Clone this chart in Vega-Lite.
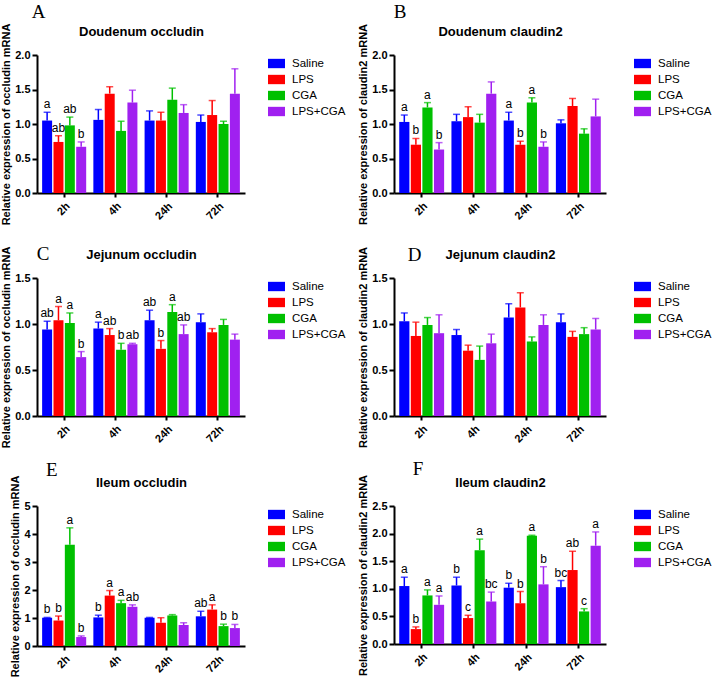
{
  "$schema": "https://vega.github.io/schema/vega-lite/v6.json",
  "background": "white",
  "padding": {"left": 0, "top": 3, "right": 0, "bottom": 0},
  "datasets": {
    "d": [
      {"p":"A","t":"2h","g":"Saline","v":1.05,"u":1.17,"l":"a"},
      {"p":"A","t":"2h","g":"LPS","v":0.74,"u":0.83,"l":"ab"},
      {"p":"A","t":"2h","g":"CGA","v":0.98,"u":1.10,"l":"ab"},
      {"p":"A","t":"2h","g":"LPS+CGA","v":0.67,"u":0.74,"l":"b"},
      {"p":"A","t":"4h","g":"Saline","v":1.06,"u":1.21,"l":""},
      {"p":"A","t":"4h","g":"LPS","v":1.44,"u":1.54,"l":""},
      {"p":"A","t":"4h","g":"CGA","v":0.90,"u":1.04,"l":""},
      {"p":"A","t":"4h","g":"LPS+CGA","v":1.31,"u":1.49,"l":""},
      {"p":"A","t":"24h","g":"Saline","v":1.05,"u":1.19,"l":""},
      {"p":"A","t":"24h","g":"LPS","v":1.05,"u":1.17,"l":""},
      {"p":"A","t":"24h","g":"CGA","v":1.35,"u":1.52,"l":""},
      {"p":"A","t":"24h","g":"LPS+CGA","v":1.16,"u":1.28,"l":""},
      {"p":"A","t":"72h","g":"Saline","v":1.03,"u":1.13,"l":""},
      {"p":"A","t":"72h","g":"LPS","v":1.13,"u":1.34,"l":""},
      {"p":"A","t":"72h","g":"CGA","v":1.00,"u":1.04,"l":""},
      {"p":"A","t":"72h","g":"LPS+CGA","v":1.44,"u":1.80,"l":""},

      {"p":"B","t":"2h","g":"Saline","v":1.03,"u":1.13,"l":"a"},
      {"p":"B","t":"2h","g":"LPS","v":0.70,"u":0.79,"l":"b"},
      {"p":"B","t":"2h","g":"CGA","v":1.24,"u":1.31,"l":"a"},
      {"p":"B","t":"2h","g":"LPS+CGA","v":0.63,"u":0.73,"l":"b"},
      {"p":"B","t":"4h","g":"Saline","v":1.04,"u":1.14,"l":""},
      {"p":"B","t":"4h","g":"LPS","v":1.10,"u":1.25,"l":""},
      {"p":"B","t":"4h","g":"CGA","v":1.02,"u":1.14,"l":""},
      {"p":"B","t":"4h","g":"LPS+CGA","v":1.44,"u":1.61,"l":""},
      {"p":"B","t":"24h","g":"Saline","v":1.05,"u":1.17,"l":"a"},
      {"p":"B","t":"24h","g":"LPS","v":0.70,"u":0.75,"l":"b"},
      {"p":"B","t":"24h","g":"CGA","v":1.31,"u":1.38,"l":"a"},
      {"p":"B","t":"24h","g":"LPS+CGA","v":0.67,"u":0.74,"l":"b"},
      {"p":"B","t":"72h","g":"Saline","v":1.01,"u":1.06,"l":""},
      {"p":"B","t":"72h","g":"LPS","v":1.26,"u":1.37,"l":""},
      {"p":"B","t":"72h","g":"CGA","v":0.86,"u":0.93,"l":""},
      {"p":"B","t":"72h","g":"LPS+CGA","v":1.11,"u":1.36,"l":""},

      {"p":"C","t":"2h","g":"Saline","v":0.94,"u":1.03,"l":"ab"},
      {"p":"C","t":"2h","g":"LPS","v":1.04,"u":1.19,"l":"a"},
      {"p":"C","t":"2h","g":"CGA","v":1.01,"u":1.12,"l":"a"},
      {"p":"C","t":"2h","g":"LPS+CGA","v":0.64,"u":0.70,"l":"b"},
      {"p":"C","t":"4h","g":"Saline","v":0.95,"u":1.02,"l":"a"},
      {"p":"C","t":"4h","g":"LPS","v":0.88,"u":0.95,"l":"ab"},
      {"p":"C","t":"4h","g":"CGA","v":0.72,"u":0.79,"l":"b"},
      {"p":"C","t":"4h","g":"LPS+CGA","v":0.78,"u":0.79,"l":"ab"},
      {"p":"C","t":"24h","g":"Saline","v":1.04,"u":1.15,"l":"ab"},
      {"p":"C","t":"24h","g":"LPS","v":0.73,"u":0.82,"l":"b"},
      {"p":"C","t":"24h","g":"CGA","v":1.13,"u":1.21,"l":"a"},
      {"p":"C","t":"24h","g":"LPS+CGA","v":0.89,"u":0.99,"l":"ab"},
      {"p":"C","t":"72h","g":"Saline","v":1.02,"u":1.11,"l":""},
      {"p":"C","t":"72h","g":"LPS","v":0.91,"u":0.95,"l":""},
      {"p":"C","t":"72h","g":"CGA","v":0.99,"u":1.05,"l":""},
      {"p":"C","t":"72h","g":"LPS+CGA","v":0.83,"u":0.89,"l":""},

      {"p":"D","t":"2h","g":"Saline","v":1.03,"u":1.12,"l":""},
      {"p":"D","t":"2h","g":"LPS","v":0.87,"u":1.02,"l":""},
      {"p":"D","t":"2h","g":"CGA","v":0.99,"u":1.07,"l":""},
      {"p":"D","t":"2h","g":"LPS+CGA","v":0.90,"u":1.10,"l":""},
      {"p":"D","t":"4h","g":"Saline","v":0.88,"u":0.94,"l":""},
      {"p":"D","t":"4h","g":"LPS","v":0.71,"u":0.77,"l":""},
      {"p":"D","t":"4h","g":"CGA","v":0.61,"u":0.76,"l":""},
      {"p":"D","t":"4h","g":"LPS+CGA","v":0.79,"u":0.89,"l":""},
      {"p":"D","t":"24h","g":"Saline","v":1.07,"u":1.22,"l":""},
      {"p":"D","t":"24h","g":"LPS","v":1.18,"u":1.34,"l":""},
      {"p":"D","t":"24h","g":"CGA","v":0.81,"u":0.86,"l":""},
      {"p":"D","t":"24h","g":"LPS+CGA","v":0.99,"u":1.10,"l":""},
      {"p":"D","t":"72h","g":"Saline","v":1.02,"u":1.11,"l":""},
      {"p":"D","t":"72h","g":"LPS","v":0.86,"u":0.92,"l":""},
      {"p":"D","t":"72h","g":"CGA","v":0.89,"u":0.96,"l":""},
      {"p":"D","t":"72h","g":"LPS+CGA","v":0.94,"u":1.06,"l":""},

      {"p":"E","t":"2h","g":"Saline","v":1.01,"u":1.02,"l":"b"},
      {"p":"E","t":"2h","g":"LPS","v":0.91,"u":1.07,"l":"b"},
      {"p":"E","t":"2h","g":"CGA","v":3.62,"u":4.22,"l":"a"},
      {"p":"E","t":"2h","g":"LPS+CGA","v":0.32,"u":0.36,"l":"b"},
      {"p":"E","t":"4h","g":"Saline","v":1.02,"u":1.10,"l":"b"},
      {"p":"E","t":"4h","g":"LPS","v":1.80,"u":1.98,"l":"a"},
      {"p":"E","t":"4h","g":"CGA","v":1.53,"u":1.63,"l":"a"},
      {"p":"E","t":"4h","g":"LPS+CGA","v":1.40,"u":1.47,"l":"ab"},
      {"p":"E","t":"24h","g":"Saline","v":1.01,"u":1.02,"l":""},
      {"p":"E","t":"24h","g":"LPS","v":0.83,"u":1.01,"l":""},
      {"p":"E","t":"24h","g":"CGA","v":1.09,"u":1.12,"l":""},
      {"p":"E","t":"24h","g":"LPS+CGA","v":0.75,"u":0.83,"l":""},
      {"p":"E","t":"72h","g":"Saline","v":1.06,"u":1.24,"l":"ab"},
      {"p":"E","t":"72h","g":"LPS","v":1.30,"u":1.47,"l":"a"},
      {"p":"E","t":"72h","g":"CGA","v":0.71,"u":0.78,"l":"b"},
      {"p":"E","t":"72h","g":"LPS+CGA","v":0.64,"u":0.77,"l":"b"},

      {"p":"F","t":"2h","g":"Saline","v":1.05,"u":1.21,"l":"a"},
      {"p":"F","t":"2h","g":"LPS","v":0.27,"u":0.31,"l":"b"},
      {"p":"F","t":"2h","g":"CGA","v":0.88,"u":0.98,"l":"a"},
      {"p":"F","t":"2h","g":"LPS+CGA","v":0.71,"u":0.87,"l":"a"},
      {"p":"F","t":"4h","g":"Saline","v":1.06,"u":1.21,"l":"b"},
      {"p":"F","t":"4h","g":"LPS","v":0.47,"u":0.52,"l":"c"},
      {"p":"F","t":"4h","g":"CGA","v":1.70,"u":1.90,"l":"a"},
      {"p":"F","t":"4h","g":"LPS+CGA","v":0.77,"u":0.94,"l":"bc"},
      {"p":"F","t":"24h","g":"Saline","v":1.02,"u":1.10,"l":"b"},
      {"p":"F","t":"24h","g":"LPS","v":0.74,"u":0.95,"l":"b"},
      {"p":"F","t":"24h","g":"CGA","v":1.96,"u":1.97,"l":"a"},
      {"p":"F","t":"24h","g":"LPS+CGA","v":1.08,"u":1.40,"l":"b"},
      {"p":"F","t":"72h","g":"Saline","v":1.03,"u":1.15,"l":"bc"},
      {"p":"F","t":"72h","g":"LPS","v":1.34,"u":1.68,"l":"ab"},
      {"p":"F","t":"72h","g":"CGA","v":0.59,"u":0.64,"l":"c"},
      {"p":"F","t":"72h","g":"LPS+CGA","v":1.78,"u":2.03,"l":"a"}
    ]
  },
  "config": {
    "view": {"stroke": null},
    "font": "Liberation Sans",
    "title": {"font": "Liberation Serif", "fontSize": 19, "fontWeight": "normal", "color": "black", "anchor": "start"},
    "axis": {"domainColor": "black", "domainWidth": 2, "tickColor": "black", "tickWidth": 2, "tickSize": 5, "grid": false, "labelOverlap": false,
      "labelFont": "Liberation Sans", "labelFontWeight": "bold", "labelFontSize": 11, "labelColor": "black",
      "titleFont": "Liberation Sans", "titleFontWeight": "bold", "titleFontSize": 11, "titleColor": "black", "titlePadding": 3},
    "axisBottom": {"labelAngle": -45, "tickSize": 4, "labelPadding": 3},
    "axisTop": {"domain": false, "ticks": false, "labels": false, "titleFontSize": 13, "titlePadding": 17},
    "legend": {"orient": "right", "padding": 0, "symbolType": "M-1,-0.55H1V0.55H-1Z", "symbolSize": 289, "symbolStrokeWidth": 0, "symbolOpacity": 1,
      "labelFont": "Liberation Sans", "labelFontSize": 11.5, "labelColor": "black", "labelOffset": 7, "rowPadding": 2, "title": null}
  },
  "spacing": 20,
  "resolve": {"scale": {"color": "independent", "x": "independent", "y": "independent", "xOffset": "independent"}, "legend": {"color": "independent"}},
  "vconcat": [
    {
      "spacing": 11,
      "resolve": {"scale": {"color": "independent", "x": "independent", "y": "independent", "xOffset": "independent"}, "legend": {"color": "independent"}},
      "hconcat": [
        {
          "width": 208, "height": 138,
          "title": {"text": "A", "dx": 31, "dy": 3},
          "data": {"name": "d"},
          "transform": [{"filter": "datum.p === 'A'"}],
          "resolve": {"axis": {"x": "independent", "y": "independent"}},
          "layer": [
            {"mark": {"type": "bar"},
             "encoding": {
               "x": {"field": "t", "type": "nominal", "sort": ["2h","4h","24h","72h"], "scale": {"paddingInner": 0.14, "paddingOuter": 0.1}, "axis": {"orient": "bottom", "title": null}},
               "xOffset": {"field": "g", "type": "nominal", "sort": ["Saline","LPS","CGA","LPS+CGA"], "scale": {"paddingInner": 0.12}},
               "y": {"field": "v", "type": "quantitative", "scale": {"domain": [0, 2], "nice": false}, "axis": {"title": "Relative expression of occludin mRNA", "values": [0, 0.5, 1, 1.5, 2], "format": ".1f"}},
               "color": {"field": "g", "type": "nominal", "scale": {"domain": ["Saline","LPS","CGA","LPS+CGA"], "range": ["#0000ff","#ff0000","#00c000","#a020f0"]}, "legend": {"offset": 23}}
             }},
            {"mark": {"type": "rule", "strokeWidth": 1.5},
             "encoding": {
               "x": {"field": "t", "type": "nominal", "sort": ["2h","4h","24h","72h"], "axis": {"orient": "top", "title": "Doudenum occludin"}},
               "xOffset": {"field": "g", "type": "nominal", "sort": ["Saline","LPS","CGA","LPS+CGA"]},
               "y": {"field": "v", "type": "quantitative", "axis": null}, "y2": {"field": "u"},
               "color": {"field": "g", "type": "nominal", "legend": null}}},
            {"mark": {"type": "tick", "thickness": 1.5, "size": 7},
             "encoding": {
               "x": {"field": "t", "type": "nominal", "sort": ["2h","4h","24h","72h"], "axis": null},
               "xOffset": {"field": "g", "type": "nominal", "sort": ["Saline","LPS","CGA","LPS+CGA"]},
               "y": {"field": "u", "type": "quantitative", "axis": null},
               "color": {"field": "g", "type": "nominal", "legend": null}}},
            {"transform": [{"filter": "datum.l != ''"}],
             "mark": {"type": "text", "baseline": "alphabetic", "dy": -4, "fontSize": 12, "color": "black"},
             "encoding": {
               "x": {"field": "t", "type": "nominal", "sort": ["2h","4h","24h","72h"], "axis": null},
               "xOffset": {"field": "g", "type": "nominal", "sort": ["Saline","LPS","CGA","LPS+CGA"]},
               "y": {"field": "u", "type": "quantitative", "axis": null}, "text": {"field": "l"}}}
          ]
        },
        {
          "width": 212, "height": 138,
          "title": {"text": "B", "dx": 36, "dy": 3},
          "data": {"name": "d"},
          "transform": [{"filter": "datum.p === 'B'"}],
          "resolve": {"axis": {"x": "independent", "y": "independent"}},
          "layer": [
            {"mark": {"type": "bar"},
             "encoding": {
               "x": {"field": "t", "type": "nominal", "sort": ["2h","4h","24h","72h"], "scale": {"paddingInner": 0.14, "paddingOuter": 0.1}, "axis": {"orient": "bottom", "title": null}},
               "xOffset": {"field": "g", "type": "nominal", "sort": ["Saline","LPS","CGA","LPS+CGA"], "scale": {"paddingInner": 0.12}},
               "y": {"field": "v", "type": "quantitative", "scale": {"domain": [0, 2], "nice": false}, "axis": {"title": "Relative expression of claudin2 mRNA", "values": [0, 0.5, 1, 1.5, 2], "format": ".1f"}},
               "color": {"field": "g", "type": "nominal", "scale": {"domain": ["Saline","LPS","CGA","LPS+CGA"], "range": ["#0000ff","#ff0000","#00c000","#a020f0"]}, "legend": {"offset": 28}}
             }},
            {"mark": {"type": "rule", "strokeWidth": 1.5},
             "encoding": {
               "x": {"field": "t", "type": "nominal", "sort": ["2h","4h","24h","72h"], "axis": {"orient": "top", "title": "Doudenum claudin2"}},
               "xOffset": {"field": "g", "type": "nominal", "sort": ["Saline","LPS","CGA","LPS+CGA"]},
               "y": {"field": "v", "type": "quantitative", "axis": null}, "y2": {"field": "u"},
               "color": {"field": "g", "type": "nominal", "legend": null}}},
            {"mark": {"type": "tick", "thickness": 1.5, "size": 7},
             "encoding": {
               "x": {"field": "t", "type": "nominal", "sort": ["2h","4h","24h","72h"], "axis": null},
               "xOffset": {"field": "g", "type": "nominal", "sort": ["Saline","LPS","CGA","LPS+CGA"]},
               "y": {"field": "u", "type": "quantitative", "axis": null},
               "color": {"field": "g", "type": "nominal", "legend": null}}},
            {"transform": [{"filter": "datum.l != ''"}],
             "mark": {"type": "text", "baseline": "alphabetic", "dy": -4, "fontSize": 12, "color": "black"},
             "encoding": {
               "x": {"field": "t", "type": "nominal", "sort": ["2h","4h","24h","72h"], "axis": null},
               "xOffset": {"field": "g", "type": "nominal", "sort": ["Saline","LPS","CGA","LPS+CGA"]},
               "y": {"field": "u", "type": "quantitative", "axis": null}, "text": {"field": "l"}}}
          ]
        }
      ]
    },
    {
      "spacing": 12,
      "resolve": {"scale": {"color": "independent", "x": "independent", "y": "independent", "xOffset": "independent"}, "legend": {"color": "independent"}},
      "vconcat": [
        {
          "spacing": 11,
          "resolve": {"scale": {"color": "independent", "x": "independent", "y": "independent", "xOffset": "independent"}, "legend": {"color": "independent"}},
          "hconcat": [
            {
              "width": 208, "height": 138,
              "title": {"text": "C", "dx": 36, "dy": 22},
              "data": {"name": "d"},
              "transform": [{"filter": "datum.p === 'C'"}],
              "resolve": {"axis": {"x": "independent", "y": "independent"}},
              "layer": [
                {"mark": {"type": "bar"},
                 "encoding": {
                   "x": {"field": "t", "type": "nominal", "sort": ["2h","4h","24h","72h"], "scale": {"paddingInner": 0.14, "paddingOuter": 0.1}, "axis": {"orient": "bottom", "title": null}},
                   "xOffset": {"field": "g", "type": "nominal", "sort": ["Saline","LPS","CGA","LPS+CGA"], "scale": {"paddingInner": 0.12}},
                   "y": {"field": "v", "type": "quantitative", "scale": {"domain": [0, 1.5], "nice": false}, "axis": {"title": "Relative expression of occludin mRNA", "values": [0, 0.5, 1, 1.5], "format": ".1f"}},
                   "color": {"field": "g", "type": "nominal", "scale": {"domain": ["Saline","LPS","CGA","LPS+CGA"], "range": ["#0000ff","#ff0000","#00c000","#a020f0"]}, "legend": {"offset": 23}}
                 }},
                {"mark": {"type": "rule", "strokeWidth": 1.5},
                 "encoding": {
                   "x": {"field": "t", "type": "nominal", "sort": ["2h","4h","24h","72h"], "axis": {"orient": "top", "title": "Jejunum occludin"}},
                   "xOffset": {"field": "g", "type": "nominal", "sort": ["Saline","LPS","CGA","LPS+CGA"]},
                   "y": {"field": "v", "type": "quantitative", "axis": null}, "y2": {"field": "u"},
                   "color": {"field": "g", "type": "nominal", "legend": null}}},
                {"mark": {"type": "tick", "thickness": 1.5, "size": 7},
                 "encoding": {
                   "x": {"field": "t", "type": "nominal", "sort": ["2h","4h","24h","72h"], "axis": null},
                   "xOffset": {"field": "g", "type": "nominal", "sort": ["Saline","LPS","CGA","LPS+CGA"]},
                   "y": {"field": "u", "type": "quantitative", "axis": null},
                   "color": {"field": "g", "type": "nominal", "legend": null}}},
                {"transform": [{"filter": "datum.l != ''"}],
                 "mark": {"type": "text", "baseline": "alphabetic", "dy": -4, "fontSize": 12, "color": "black"},
                 "encoding": {
                   "x": {"field": "t", "type": "nominal", "sort": ["2h","4h","24h","72h"], "axis": null},
                   "xOffset": {"field": "g", "type": "nominal", "sort": ["Saline","LPS","CGA","LPS+CGA"]},
                   "y": {"field": "u", "type": "quantitative", "axis": null}, "text": {"field": "l"}}}
              ]
            },
            {
              "width": 212, "height": 138,
              "title": {"text": "D", "dx": 50, "dy": 23},
              "data": {"name": "d"},
              "transform": [{"filter": "datum.p === 'D'"}],
              "resolve": {"axis": {"x": "independent", "y": "independent"}},
              "layer": [
                {"mark": {"type": "bar"},
                 "encoding": {
                   "x": {"field": "t", "type": "nominal", "sort": ["2h","4h","24h","72h"], "scale": {"paddingInner": 0.14, "paddingOuter": 0.1}, "axis": {"orient": "bottom", "title": null}},
                   "xOffset": {"field": "g", "type": "nominal", "sort": ["Saline","LPS","CGA","LPS+CGA"], "scale": {"paddingInner": 0.12}},
                   "y": {"field": "v", "type": "quantitative", "scale": {"domain": [0, 1.5], "nice": false}, "axis": {"title": "Relative expression of claudin2 mRNA", "values": [0, 0.5, 1, 1.5], "format": ".1f"}},
                   "color": {"field": "g", "type": "nominal", "scale": {"domain": ["Saline","LPS","CGA","LPS+CGA"], "range": ["#0000ff","#ff0000","#00c000","#a020f0"]}, "legend": {"offset": 28}}
                 }},
                {"mark": {"type": "rule", "strokeWidth": 1.5},
                 "encoding": {
                   "x": {"field": "t", "type": "nominal", "sort": ["2h","4h","24h","72h"], "axis": {"orient": "top", "title": "Jejunum claudin2"}},
                   "xOffset": {"field": "g", "type": "nominal", "sort": ["Saline","LPS","CGA","LPS+CGA"]},
                   "y": {"field": "v", "type": "quantitative", "axis": null}, "y2": {"field": "u"},
                   "color": {"field": "g", "type": "nominal", "legend": null}}},
                {"mark": {"type": "tick", "thickness": 1.5, "size": 7},
                 "encoding": {
                   "x": {"field": "t", "type": "nominal", "sort": ["2h","4h","24h","72h"], "axis": null},
                   "xOffset": {"field": "g", "type": "nominal", "sort": ["Saline","LPS","CGA","LPS+CGA"]},
                   "y": {"field": "u", "type": "quantitative", "axis": null},
                   "color": {"field": "g", "type": "nominal", "legend": null}}}
              ]
            }
          ]
        },
        {
          "spacing": 11,
          "resolve": {"scale": {"color": "independent", "x": "independent", "y": "independent", "xOffset": "independent"}, "legend": {"color": "independent"}},
          "hconcat": [
            {
              "width": 208, "height": 140,
              "title": {"text": "E", "dx": 36, "dy": 9},
              "data": {"name": "d"},
              "transform": [{"filter": "datum.p === 'E'"}],
              "resolve": {"axis": {"x": "independent", "y": "independent"}},
              "layer": [
                {"mark": {"type": "bar"},
                 "encoding": {
                   "x": {"field": "t", "type": "nominal", "sort": ["2h","4h","24h","72h"], "scale": {"paddingInner": 0.14, "paddingOuter": 0.1}, "axis": {"orient": "bottom", "title": null}},
                   "xOffset": {"field": "g", "type": "nominal", "sort": ["Saline","LPS","CGA","LPS+CGA"], "scale": {"paddingInner": 0.12}},
                   "y": {"field": "v", "type": "quantitative", "scale": {"domain": [0, 5], "nice": false}, "axis": {"title": "Relative expression of occludin mRNA", "values": [0, 1, 2, 3, 4, 5], "format": "d"}},
                   "color": {"field": "g", "type": "nominal", "scale": {"domain": ["Saline","LPS","CGA","LPS+CGA"], "range": ["#0000ff","#ff0000","#00c000","#a020f0"]}, "legend": {"offset": 23}}
                 }},
                {"mark": {"type": "rule", "strokeWidth": 1.5},
                 "encoding": {
                   "x": {"field": "t", "type": "nominal", "sort": ["2h","4h","24h","72h"], "axis": {"orient": "top", "title": "Ileum occludin"}},
                   "xOffset": {"field": "g", "type": "nominal", "sort": ["Saline","LPS","CGA","LPS+CGA"]},
                   "y": {"field": "v", "type": "quantitative", "axis": null}, "y2": {"field": "u"},
                   "color": {"field": "g", "type": "nominal", "legend": null}}},
                {"mark": {"type": "tick", "thickness": 1.5, "size": 7},
                 "encoding": {
                   "x": {"field": "t", "type": "nominal", "sort": ["2h","4h","24h","72h"], "axis": null},
                   "xOffset": {"field": "g", "type": "nominal", "sort": ["Saline","LPS","CGA","LPS+CGA"]},
                   "y": {"field": "u", "type": "quantitative", "axis": null},
                   "color": {"field": "g", "type": "nominal", "legend": null}}},
                {"transform": [{"filter": "datum.l != ''"}],
                 "mark": {"type": "text", "baseline": "alphabetic", "dy": -4, "fontSize": 12, "color": "black"},
                 "encoding": {
                   "x": {"field": "t", "type": "nominal", "sort": ["2h","4h","24h","72h"], "axis": null},
                   "xOffset": {"field": "g", "type": "nominal", "sort": ["Saline","LPS","CGA","LPS+CGA"]},
                   "y": {"field": "u", "type": "quantitative", "axis": null}, "text": {"field": "l"}}}
              ]
            },
            {
              "width": 212, "height": 138,
              "title": {"text": "F", "dx": 55, "dy": 9},
              "data": {"name": "d"},
              "transform": [{"filter": "datum.p === 'F'"}],
              "resolve": {"axis": {"x": "independent", "y": "independent"}},
              "layer": [
                {"mark": {"type": "bar"},
                 "encoding": {
                   "x": {"field": "t", "type": "nominal", "sort": ["2h","4h","24h","72h"], "scale": {"paddingInner": 0.14, "paddingOuter": 0.1}, "axis": {"orient": "bottom", "title": null}},
                   "xOffset": {"field": "g", "type": "nominal", "sort": ["Saline","LPS","CGA","LPS+CGA"], "scale": {"paddingInner": 0.12}},
                   "y": {"field": "v", "type": "quantitative", "scale": {"domain": [0, 2.5], "nice": false}, "axis": {"title": "Relative expression of claudin2 mRNA", "values": [0, 0.5, 1, 1.5, 2, 2.5], "format": ".1f"}},
                   "color": {"field": "g", "type": "nominal", "scale": {"domain": ["Saline","LPS","CGA","LPS+CGA"], "range": ["#0000ff","#ff0000","#00c000","#a020f0"]}, "legend": {"offset": 28}}
                 }},
                {"mark": {"type": "rule", "strokeWidth": 1.5},
                 "encoding": {
                   "x": {"field": "t", "type": "nominal", "sort": ["2h","4h","24h","72h"], "axis": {"orient": "top", "title": "Ileum claudin2"}},
                   "xOffset": {"field": "g", "type": "nominal", "sort": ["Saline","LPS","CGA","LPS+CGA"]},
                   "y": {"field": "v", "type": "quantitative", "axis": null}, "y2": {"field": "u"},
                   "color": {"field": "g", "type": "nominal", "legend": null}}},
                {"mark": {"type": "tick", "thickness": 1.5, "size": 7},
                 "encoding": {
                   "x": {"field": "t", "type": "nominal", "sort": ["2h","4h","24h","72h"], "axis": null},
                   "xOffset": {"field": "g", "type": "nominal", "sort": ["Saline","LPS","CGA","LPS+CGA"]},
                   "y": {"field": "u", "type": "quantitative", "axis": null},
                   "color": {"field": "g", "type": "nominal", "legend": null}}},
                {"transform": [{"filter": "datum.l != ''"}],
                 "mark": {"type": "text", "baseline": "alphabetic", "dy": -4, "fontSize": 12, "color": "black"},
                 "encoding": {
                   "x": {"field": "t", "type": "nominal", "sort": ["2h","4h","24h","72h"], "axis": null},
                   "xOffset": {"field": "g", "type": "nominal", "sort": ["Saline","LPS","CGA","LPS+CGA"]},
                   "y": {"field": "u", "type": "quantitative", "axis": null}, "text": {"field": "l"}}}
              ]
            }
          ]
        }
      ]
    }
  ]
}
